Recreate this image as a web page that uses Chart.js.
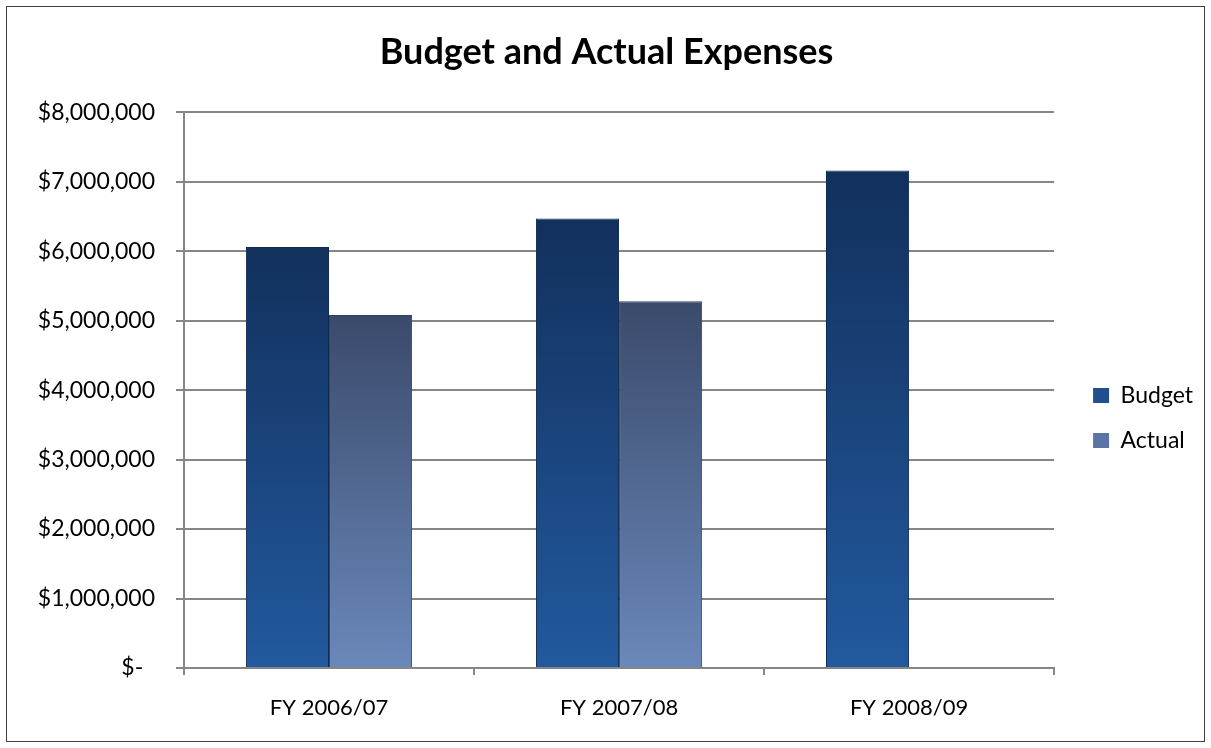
<!DOCTYPE html>
<html>
<head>
<meta charset="utf-8">
<script src="https://cdn.jsdelivr.net/npm/chart.js@4.4.1/dist/chart.umd.min.js"></script>
<style>
  html, body { margin: 0; padding: 0; background: #fff; }
  #wrap { width: 1211px; height: 748px; position: relative; }
</style>
</head>
<body>
<div id="wrap"><canvas id="expensesChart" width="1211" height="748"></canvas></div>
<script>
// data
const categories = ["FY 2006/07", "FY 2007/08", "FY 2008/09"];
const budget = [6060000, 6470000, 7160000];
const actual = [5080000, 5280000, null];
const yTicks = [0, 1000000, 2000000, 3000000, 4000000, 5000000, 6000000, 7000000, 8000000];

const FONT = "Lato, 'Open Sans', sans-serif";

// vertical gradient per bar, top -> bottom
function barFill(top, bottom) {
  return function (ctx) {
    const chart = ctx.chart;
    if (!chart.chartArea || ctx.raw == null) return bottom;
    const y = chart.scales.y;
    const y0 = y.getPixelForValue(ctx.raw);
    const y1 = y.getPixelForValue(0);
    const g = chart.ctx.createLinearGradient(0, y0, 0, y1);
    g.addColorStop(0, top);
    g.addColorStop(1, bottom);
    return g;
  };
}

// outer frame around the whole chart
const framePlugin = {
  id: "frame",
  afterDraw(chart) {
    const c = chart.ctx;
    c.save();
    c.strokeStyle = "#404040";
    c.lineWidth = 1;
    c.strokeRect(6.5, 6.5, chart.width - 13, chart.height - 13);
    c.restore();
  },
};

const ctx = document.getElementById("expensesChart").getContext("2d");
const expensesChart = new Chart(ctx, {
  type: "bar",
  data: {
    labels: categories,
    datasets: [
      {
        label: "Budget",
        data: budget,
        backgroundColor: barFill("#12305c", "#22599e"),
        borderColor: "#0f2a50",
        borderWidth: 1,
      },
      {
        label: "Actual",
        data: actual,
        backgroundColor: barFill("#3a4a6b", "#6a88ba"),
        borderColor: "#33435f",
        borderWidth: 1,
      },
    ],
  },
  options: {
    responsive: false,
    animation: false,
    devicePixelRatio: 1,
    layout: { padding: { left: 10, right: 8, top: 20, bottom: 14 } },
    datasets: {
      bar: { categoryPercentage: 0.573, barPercentage: 1.0 },
    },
    plugins: {
      title: {
        display: true,
        text: "Budget and Actual Expenses",
        color: "#000",
        font: { family: FONT, size: 36, weight: "bold" },
        padding: { top: 11, bottom: 38 },
      },
      legend: {
        position: "right",
        align: "center",
        // empty title only pushes the items down to where the reference has them
        title: {
          display: true,
          text: "",
          font: { family: FONT, size: 10, lineHeight: 1 },
          padding: { top: 72, bottom: 0 },
        },
        labels: {
          color: "#000",
          font: { family: FONT, size: 23 },
          boxWidth: 16,
          boxHeight: 15,
          padding: 22,
          generateLabels(chart) {
            const solid = ["#1f4f8f", "#5a74a4"];
            return chart.data.datasets.map((ds, i) => ({
              text: ds.label,
              fillStyle: solid[i],
              strokeStyle: solid[i],
              lineWidth: 0,
              hidden: false,
              datasetIndex: i,
              fontColor: "#000",
            }));
          },
        },
      },
      tooltip: { enabled: false },
    },
    scales: {
      x: {
        afterFit(scale) {
          scale.height = 66;
        },
        grid: {
          display: true,
          offset: true,
          drawOnChartArea: false,
          drawTicks: true,
          tickLength: 7,
          color: "#868686",
          lineWidth: 2,
        },
        border: { color: "#868686", width: 2 },
        ticks: {
          color: "#000",
          font: { family: FONT, size: 22 },
          padding: 20,
        },
      },
      y: {
        min: 0,
        max: 8000000,
        afterBuildTicks(scale) {
          scale.ticks = yTicks.map((v) => ({ value: v }));
        },
        afterFit(scale) {
          scale.width = 174;
        },
        grid: {
          color: "#868686",
          lineWidth: 2,
          drawTicks: true,
          tickLength: 8,
        },
        border: { color: "#868686", width: 2 },
        ticks: {
          color: "#000",
          font: { family: FONT, size: 23 },
          padding: 21,
          callback(value) {
            if (value === 0) return "$-  ";
            return "$" + value.toLocaleString("en-US");
          },
        },
      },
      // empty axis used only as a gap between the plot and the legend
      gap: {
        position: "right",
        display: true,
        grid: { display: false },
        border: { display: false },
        ticks: { display: false },
        afterFit(scale) {
          scale.width = 17;
        },
      },
    },
  },
  plugins: [framePlugin],
});
</script>
</body>
</html>
